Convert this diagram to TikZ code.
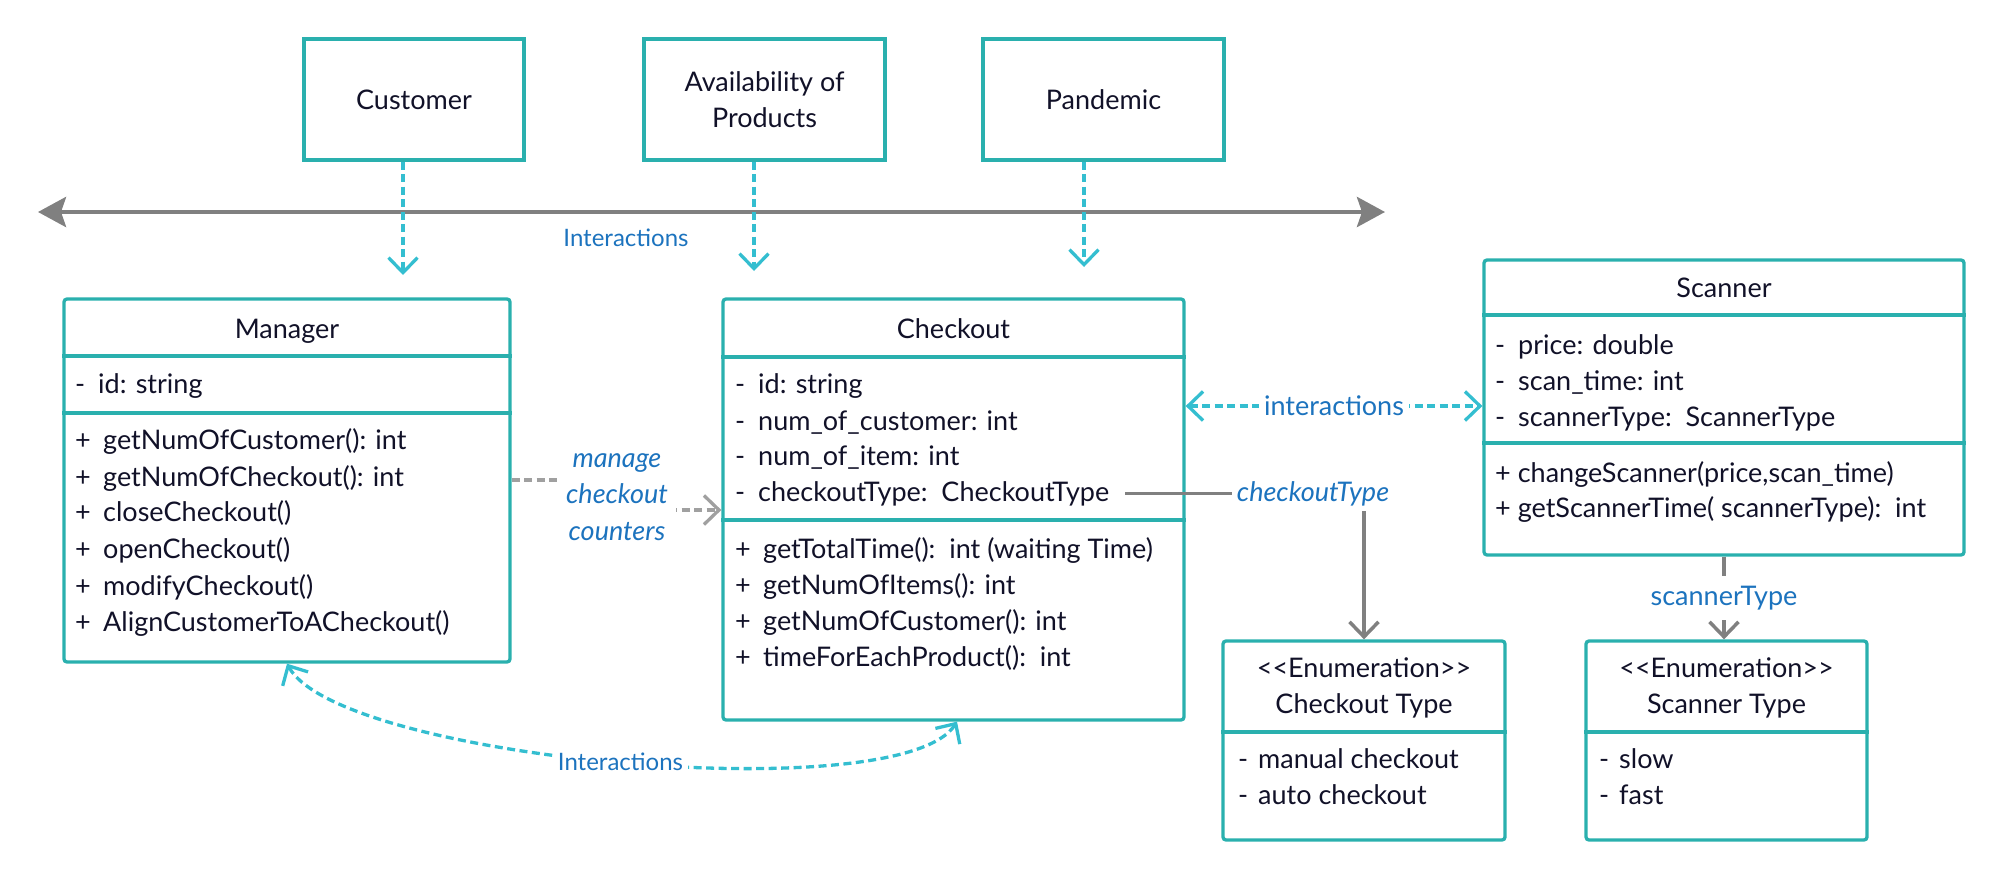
\documentclass[tikz,border=0pt]{standalone}
\usepackage{fontspec}
\setmainfont{Lato}
\usetikzlibrary{arrows.meta}
\definecolor{tealline}{RGB}{42,176,174}
\definecolor{cyanline}{RGB}{52,190,208}
\definecolor{greyline}{RGB}{128,128,128}
\definecolor{labelblue}{RGB}{28,115,190}
\definecolor{ink}{RGB}{17,17,40}
\newcommand\classfont{\fontsize{27pt}{36.5pt}\selectfont}
\newcommand\labelfont{\fontsize{24pt}{30pt}\selectfont}
\newcommand\italfont{\fontsize{27pt}{36.5pt}\selectfont\itshape}
\def\vpriv{\makebox[23pt][l]{-}}
\def\vpubl{\makebox[28pt][l]{+}}
\def\vlit{\makebox[20pt][l]{-}}
\tikzset{
	topbox/.style={draw=tealline, line width=3.3pt, inner sep=0pt, align=center, text=ink, font=\classfont},
	classbox/.style={draw=tealline, line width=3.3pt, rounded corners=3pt, inner sep=0pt},
	sepline/.style={draw=tealline, line width=3.3pt},
	title/.style={anchor=base, inner sep=0pt, text=ink, font=\classfont},
	row/.style={anchor=base west, inner sep=0pt, text=ink, font=\classfont},
	edgelabel/.style={fill=white, text=labelblue, inner sep=5pt, font=\classfont},
	axisline/.style={draw=greyline, line width=4.5pt, {Stealth[length=28pt,width=30pt,inset=5pt]}-{Stealth[length=28pt,width=30pt,inset=5pt]}},
	dashlink/.style={draw=cyanline, line width=3.3pt, dash pattern=on 8pt off 4.5pt, -{Straight Barb[length=15pt,width=29pt]}},
	dashboth/.style={draw=cyanline, line width=3.3pt, dash pattern=on 8pt off 4.5pt, {Straight Barb[length=15pt,width=29pt]}-{Straight Barb[length=15pt,width=29pt]}},
	greydash/.style={draw=greyline!75, line width=3.3pt, dash pattern=on 8pt off 4.5pt, -{Straight Barb[length=15pt,width=29pt]}},
	greyarrow/.style={draw=greyline, line width=3.5pt, -{Straight Barb[length=15pt,width=29pt]}}
}

\begin{document}
\begin{tikzpicture}[x=1pt, y=-1pt]
		%%%%% START %%%%%
		\useasboundingbox (0,0) rectangle (2004,880);
		
		% influences
		\node[topbox, minimum width=220pt, minimum height=121pt] (customer) at (414,99.5) {Customer};
		\node[topbox, minimum width=241pt, minimum height=121pt] (avail) at (764.5,99.5) {Availability of\\Products};
		\node[topbox, minimum width=241pt, minimum height=121pt] (pandemic) at (1103.5,99.5) {Pandemic};
		
		\coordinate (axisL) at (38,212);
		\coordinate (axisR) at (1385,212);
		\draw[axisline] (axisL) -- (axisR);
		\node[edgelabel, fill=none, font=\labelfont] (axislabel) at (626,238) {Interactions};
		
		\coordinate (custend) at (403,275);
		\coordinate (availend) at (754,271);
		\coordinate (pandend) at (1084,267);
		\draw[dashlink] (custend |- customer.south) -- (custend);
		\draw[dashlink] (availend |- avail.south) -- (availend);
		\draw[dashlink] (pandend |- pandemic.south) -- (pandend);
		
		% Manager
		\node[classbox, minimum width=446pt, minimum height=363pt] (manager) at (287,480.5) {};
		\draw[sepline] (manager.west |- 0,356) -- (manager.east |- 0,356);
		\draw[sepline] (manager.west |- 0,413) -- (manager.east |- 0,413);
		\node[title] (mtitle) at (287,338) {Manager};
		\node[row] (ma1) at (75,393) {\vpriv id: string};
		\node[row] (mo1) at (75,449) {\vpubl getNumOfCustomer(): int};
		\node[row] (mo2) at (75,486) {\vpubl getNumOfCheckout(): int};
		\node[row] (mo3) at (75,521) {\vpubl closeCheckout()};
		\node[row] (mo4) at (75,558) {\vpubl openCheckout()};
		\node[row] (mo5) at (75,595) {\vpubl modifyCheckout()};
		\node[row] (mo6) at (75,631) {\vpubl AlignCustomerToACheckout()};
		
		% Checkout
		\node[classbox, minimum width=461pt, minimum height=421pt] (checkout) at (953.5,509.5) {};
		\draw[sepline] (checkout.west |- 0,357) -- (checkout.east |- 0,357);
		\draw[sepline] (checkout.west |- 0,520) -- (checkout.east |- 0,520);
		\node[title] (ctitle) at (953.5,338) {Checkout};
		\node[row] (ck1) at (735,393) {\vpriv id: string};
		\node[row] (ck2) at (735,430) {\vpriv num\_of\_customer: int};
		\node[row] (ck3) at (735,465) {\vpriv num\_of\_item: int};
		\node[row] (ck4) at (735,501) {\vpriv checkoutType:\ \ CheckoutType};
		\node[row] (co1) at (735,558) {\vpubl getTotalTime():\ \ int (waiting Time)};
		\node[row] (co2) at (735,594) {\vpubl getNumOfItems(): int};
		\node[row] (co3) at (735,630) {\vpubl getNumOfCustomer(): int};
		\node[row] (co4) at (735,666) {\vpubl timeForEachProduct():\ \ int};
		
		% Scanner
		\node[classbox, minimum width=480pt, minimum height=295pt] (scanner) at (1724,407.5) {};
		\draw[sepline] (scanner.west |- 0,315) -- (scanner.east |- 0,315);
		\draw[sepline] (scanner.west |- 0,443) -- (scanner.east |- 0,443);
		\node[title] (stitle) at (1724,297) {Scanner};
		\node[row] (sa1) at (1495,354) {\vpriv price: double};
		\node[row] (sa2) at (1495,390) {\vpriv scan\_time: int};
		\node[row] (sa3) at (1495,426) {\vpriv scannerType:\ \ ScannerType};
		\node[row] (so1) at (1495,482) {+ changeScanner(price,scan\_time)};
		\node[row] (so2) at (1495,517) {+ getScannerTime(\ scannerType):\ \ int};
		
		% enumerations
		\node[classbox, minimum width=282pt, minimum height=199pt] (cktype) at (1364,740.5) {};
		\draw[sepline] (cktype.west |- 0,732) -- (cktype.east |- 0,732);
		\node[title] (cte) at (1364,677) {<\kern0pt<Enumeration>\kern0pt>};
		\node[title] (ctn) at (1364,713) {Checkout Type};
		\node[row] (ct1) at (1238,768) {\vlit manual checkout};
		\node[row] (ct2) at (1238,804) {\vlit auto checkout};
		
		\node[classbox, minimum width=281pt, minimum height=199pt] (sctype) at (1726.5,740.5) {};
		\draw[sepline] (sctype.west |- 0,732) -- (sctype.east |- 0,732);
		\node[title] (ste) at (1726.5,677) {<\kern0pt<Enumeration>\kern0pt>};
		\node[title] (stn) at (1726.5,713) {Scanner Type};
		\node[row] (st1) at (1599,768) {\vlit slow};
		\node[row] (st2) at (1599,804) {\vlit fast};
		
		% links
		\draw[greydash] (manager.east |- 0,480) -- (617,480) -- (617,510) -- (checkout.west |- 0,510);
		\node[edgelabel, font=\italfont, align=center, inner sep=8pt] (managelabel) at (617,497) {manage\\checkout\\counters};
		
		\draw[dashboth] (checkout.east |- 0,406) -- (scanner.west |- 0,406) node[edgelabel, midway] (ilabel) {interactions};
		
		\draw[greyarrow] ([xshift=16pt]ck4.east) -| (cktype.north);
		\node[edgelabel, font=\italfont] (ctlabel) at (1313,494) {checkoutType};
		
		\draw[greyarrow] (scanner.south) -- (scanner.south |- sctype.north) node[edgelabel, midway, inner ysep=10pt] (stlabel) {scannerType};
		
		\draw[dashboth] (287,0 |- manager.south) .. controls (340,760) and (900,810) .. (957,0 |- checkout.south) node[edgelabel, pos=0.5, font=\labelfont] (blabel) {Interactions};
		
		%%%%% END %%%%%
\end{tikzpicture}
\end{document}
